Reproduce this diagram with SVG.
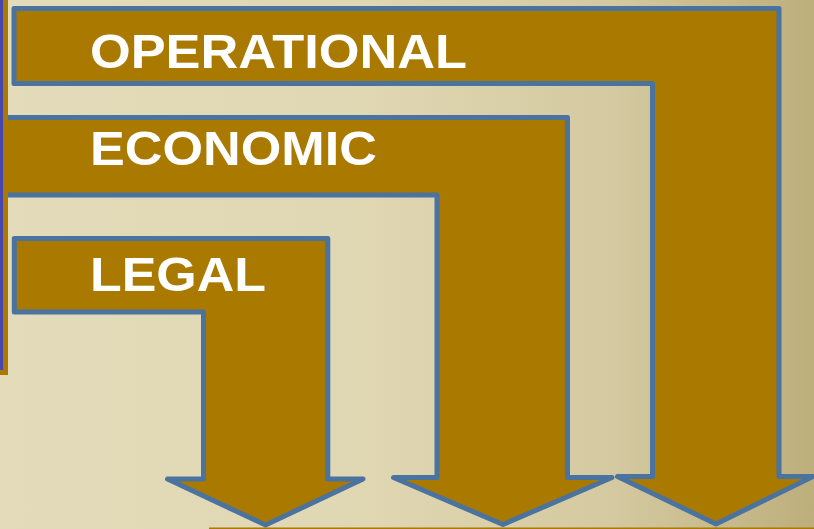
<svg xmlns="http://www.w3.org/2000/svg" width="814" height="529" viewBox="0 0 814 529">
  <defs>
    <linearGradient id="bg" x1="0" y1="0" x2="1" y2="0">
      <stop offset="0" stop-color="#E3DBBA"/>
      <stop offset="0.45" stop-color="#E0D7B3"/>
      <stop offset="0.75" stop-color="#D4C9A0"/>
      <stop offset="1" stop-color="#BDAF7C"/>
    </linearGradient>
  </defs>
  <style>
    .arrow { fill: #AA7900; stroke: #4A73A0; stroke-width: 5; stroke-linejoin: round; }
    .label { fill: #FFFFFF; font-family: "Liberation Sans", Arial, sans-serif; font-weight: bold; font-size: 49px; }
  </style>
  <rect x="0" y="0" width="814" height="529" fill="url(#bg)"/>

  <g id="node-operational">
    <path class="arrow" d="M14,8.5 H779 V476.5 H813 L716,524 L617.5,476.5 H652.5 V83.5 H14 Z"/>
    <text class="label" x="90" y="68" textLength="377" lengthAdjust="spacingAndGlyphs">OPERATIONAL</text>
  </g>

  <g id="node-economic">
    <path class="arrow" d="M-10,117.5 H567.5 V477.5 H612 L503,524.5 L393.5,477.5 H437 V195 H-10 Z"/>
    <text class="label" x="90" y="165" textLength="287" lengthAdjust="spacingAndGlyphs">ECONOMIC</text>
  </g>

  <g id="node-legal">
    <path class="arrow" d="M14.3,238.5 H327.8 V479 H363 L265.5,525 L167.5,479 H203.5 V312 H14.3 Z"/>
    <text class="label" x="90" y="291" textLength="176" lengthAdjust="spacingAndGlyphs">LEGAL</text>
  </g>

  <g id="connectors"></g>

  <g id="frame">
    <rect x="0" y="0" width="8" height="375" fill="#AA7900"/>
    <rect x="0" y="0" width="3" height="370" fill="#4646AE"/>
    <rect x="209" y="527.5" width="605" height="1.5" fill="#AA7900"/>
  </g>
</svg>
